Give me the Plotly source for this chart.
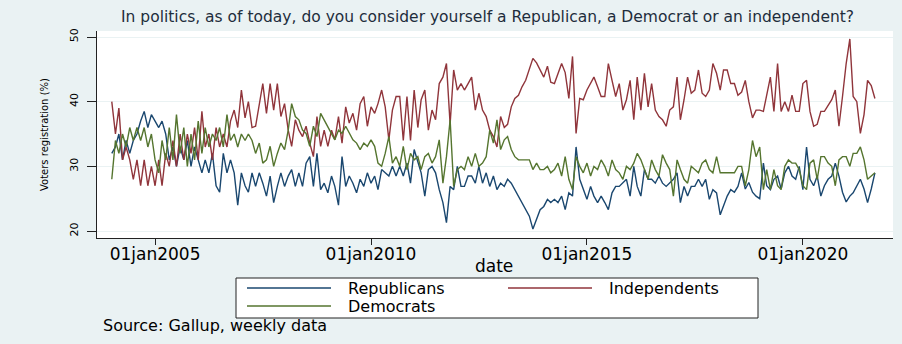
import plotly.graph_objects as go
import pandas as pd

# ---- data (monthly readings, Jan 2004 .. Sep 2021) ----
republicans = [
    32, 33, 35, 31, 34, 32, 34, 35, 37, 38.5,
    36, 38, 37, 36, 37, 35, 31, 33, 30, 33,
    31, 34, 30, 33, 31, 29, 31, 29, 32, 27,
    26, 32, 29, 31, 29, 24, 29, 27, 26, 29,
    26.9, 29, 27.4, 25.4, 28.5, 24.4, 26.9, 29, 26.9, 28.5,
    29.5, 26.9, 29, 26.9, 30.5, 31.5, 26.9, 32, 26.4, 27.4,
    25.9, 28.5, 26.9, 24, 31.5, 26.9, 28.5, 27.4, 25.9, 28,
    26.9, 29, 27.4, 28.5, 26.4, 29.5, 29, 28.5, 30, 28.5,
    30, 28.5, 30.5, 27.4, 32.6, 30.5, 29, 25.4, 29.5, 30,
    29, 26.4, 24.4, 21.3, 26.9, 26.4, 30, 26.9, 26.9, 28.5,
    28.5, 27.4, 30, 27.4, 29, 26.9, 28.5, 26.4, 27.4, 26.9,
    28, 27.4, 26.4, 25.4, 24.4, 23.3, 22.3, 20.3, 21.8, 23.3,
    23.8, 24.9, 24.4, 24.9, 24.4, 25.4, 23.3, 25.9, 25.4, 33,
    28, 26.4, 24.9, 26.9, 25.4, 24.4, 25.4, 24.4, 23.3, 25.9,
    26.9, 26.9, 27.4, 28, 25.4, 30, 26.9, 25.4, 29.5, 28,
    28, 27.4, 28.5, 27.4, 26.9, 27.4, 28, 29, 24.4, 26.9,
    25.4, 26.9, 26.9, 28, 26.9, 28, 24.9, 26.4, 25.9, 22.5,
    24, 25.4, 26.4, 26, 26.9, 29, 26.5, 27.5, 26, 25.4,
    25, 30.5, 27, 26.4, 28, 28.5, 26.5, 29, 30, 28.5,
    28, 30, 26.4, 33, 28, 27, 28.5, 25.4, 27, 28,
    28.5, 30.5, 28.5, 26, 24.5, 25.4, 25.9, 26.9, 28, 26.5,
    24.4, 26.5, 29,
]
independents = [
    40, 35, 39, 31, 33, 31, 28, 31, 27, 31,
    27, 30, 27, 31, 27, 32, 30, 34, 30, 35,
    31, 35, 32, 36, 31, 38.5, 33, 35, 31, 36,
    33, 35, 33, 37, 38.7, 36, 41.8, 37.5, 40, 36,
    36.2, 39.7, 42.8, 38.2, 42.8, 38.7, 42.8, 37.7, 39.7, 35.6,
    33.1, 37.2, 35.6, 34.6, 36.2, 33.6, 31.5, 37.7, 33.1, 35.6,
    33.1, 35.6, 34.1, 37.7, 33.6, 39.2, 36.7, 38.2, 35.6, 39.7,
    40.8, 36.2, 39.2, 38.2, 39.7, 41.8, 39.2, 34.1, 38.7, 40.8,
    40.8, 34, 40.8, 34, 41.8, 36, 40.3, 41.8, 35.6, 38.7,
    37.2, 42.8, 43.8, 45.9, 36.5, 44.9, 41.8, 42.8, 41.8, 42.8,
    43.8, 38.7, 41.3, 38.7, 37.7, 35.6, 34.6, 33, 37.7, 36,
    36.5, 39.2, 40.5, 41, 42.3, 43.3, 44.9, 46.7, 46, 45,
    43.8, 45.5, 43, 42.8, 44.5, 45.9, 44.5, 40.5, 47, 35.1,
    40.5, 40.3, 41.8, 42.8, 43.8, 42.3, 40.8, 40.8, 45.9, 43.3,
    40.8, 42.8, 38.7, 40.3, 43.3, 37.2, 43.8, 38.7, 44.4, 39.2,
    42.8, 38.7, 37.7, 37.2, 36.2, 38.7, 39.2, 43.8, 37.2, 40.3,
    43.8, 41.3, 41.8, 44.9, 41.3, 40.8, 41.8, 45.9, 44.4, 41.8,
    44.9, 44.9, 42.8, 42.8, 41, 41.5, 43.3, 40, 37.5, 38.7,
    38.7, 38.5, 41, 43.8, 38.5, 45.9, 38.5, 40, 38.5, 41,
    38.5, 38.5, 42.8, 43.3, 38.5, 36.2, 36.5, 38.5, 38.5, 39.5,
    40.3, 41.8, 36.2, 40.8, 45.9, 49.7, 40.8, 40, 35.1, 38,
    43.3, 42.5, 40.5,
]
democrats = [
    28, 34, 32, 35, 33, 36, 34, 36, 34, 36,
    33, 35, 31, 29, 34, 31, 36, 31, 38, 32,
    36, 30, 35, 31, 37, 32, 36, 33, 35, 34,
    36, 33, 38, 34, 35, 33, 35, 34, 35, 34,
    32, 33.6, 30.5, 31, 33.1, 30, 32, 33.6, 32.6, 35.6,
    39.7, 37.7, 37.2, 35.6, 35.1, 33.1, 36.2, 34.6, 38.2, 37.2,
    36.2, 35.1, 34.1, 35.6, 35.1, 36.2, 35.1, 34.1, 33.6, 32.6,
    33.6, 33.1, 34.1, 33.1, 30.5, 30, 32, 34.6, 30.5, 31.5,
    30, 33.1, 29.5, 32, 31, 31.5, 29.5, 31.5, 32, 30.5,
    31.5, 34.1, 27.4, 31.5, 37.2, 26.9, 29.5, 30, 29.5, 31.5,
    30, 32, 30, 30.5, 31.5, 35.6, 33.6, 37.2, 32.6, 34.1,
    34.6, 32.6, 31.5, 31, 31, 31, 31, 29.5, 30.5, 29.5,
    29.5, 30, 29, 29.5, 30.5, 28.5, 31.5, 28, 26.4, 31.5,
    30, 29, 30.5, 28.5, 30, 29.5, 31, 30, 28.5, 31,
    29.5, 29, 28, 30, 29.5, 30.5, 32, 31, 29.5, 28,
    31, 29.5, 28.5, 31.8, 30.5, 29.5, 25.4, 31, 29.5, 28,
    27.4, 30, 29.5, 29, 30.5, 31, 29.5, 29, 31.5, 29,
    29, 29, 29, 29, 30, 30, 27, 29.5, 34, 31.5,
    33, 26.4, 29.5, 26.4, 29.5, 27, 26.4, 30, 31, 30.5,
    30.5, 29.5, 27, 26.4, 30.5, 31, 28, 31.5, 31.5, 30.5,
    30, 27, 31, 31.5, 31.5, 30, 32, 32, 33, 31,
    28, 28.5, 29,
]
dates = pd.date_range("2004-01-01", periods=len(republicans), freq="MS")

series_names = ["Republicans", "Independents", "Democrats"]
series_colors = ["#1a476f", "#90353b", "#55752f"]

tick_dates = ["2005-01-01", "2010-01-01", "2015-01-01", "2020-01-01"]
tick_labels = ["01jan2005", "01jan2010", "01jan2015", "01jan2020"]
y_ticks = [20, 30, 40, 50]

title_text = ("In politics, as of today, do you consider yourself a Republican, "
              "a Democrat or an independent?")

# ---- layout geometry (pixels) ----
W, H = 902, 344
L, R, T, B = 97, 9, 31, 106
PW, PH = W - L - R, H - T - B


def fx(x):
    return (x - L) / PW


def fy(y):
    return (H - B - y) / PH


FONT = "DejaVu Sans"
BG = "#eaf2f3"

fig = go.Figure()
for name, vals, color in zip(series_names, [republicans, independents, democrats], series_colors):
    fig.add_trace(go.Scatter(x=dates, y=vals, mode="lines", name=name,
                             line=dict(color=color, width=1.4), showlegend=False))

fig.update_layout(
    width=W, height=H,
    margin=dict(l=L, r=R, t=T, b=B, pad=0),
    paper_bgcolor=BG, plot_bgcolor="white",
    font=dict(family=FONT, color="black"),
    showlegend=False,
    xaxis=dict(type="date", range=["2003-08-29", "2022-02-01"],
               tickmode="array", tickvals=tick_dates, ticktext=tick_labels,
               ticks="outside", ticklen=6, tickcolor="#222", tickwidth=1,
               ticklabelstandoff=-5,
               showline=True, linecolor="#222", linewidth=1,
               showgrid=False, zeroline=False,
               tickfont=dict(family=FONT, size=17, color="black")),
    yaxis=dict(range=[18.92, 50.93], tickmode="array", tickvals=y_ticks,
               ticks="outside", ticklen=9, tickcolor="#222", tickwidth=1,
               tickangle=-90, ticklabelstandoff=5,
               showline=True, linecolor="#222", linewidth=1,
               showgrid=True, gridcolor=BG, gridwidth=1, zeroline=False,
               tickfont=dict(family=FONT, size=11, color="black")),
)


def note(x, y, text, size, xanchor="center", angle=0, color="black"):
    return dict(x=fx(x), y=fy(y), xref="paper", yref="paper", text=text,
                showarrow=False, xanchor=xanchor, yanchor="middle",
                textangle=angle, font=dict(family=FONT, size=size, color=color))


ann = [
    note(487, 17, title_text, 15.5, color="#1e2d3c"),
    note(44, 135, "Voters registration (%)", 10, angle=-90),
    note(494, 266, "date", 17),
    note(101, 325, "Source: Gallup, weekly data", 16, xanchor="left"),
]

# legend (drawn manually: wide line samples, two columns)
legend_items = [
    (series_names[0], series_colors[0], 247, 331, 346, 288),
    (series_names[1], series_colors[1], 508, 592, 607, 288),
    (series_names[2], series_colors[2], 247, 331, 346, 306),
]
shapes = [dict(type="rect", xref="paper", yref="paper",
               x0=fx(236), x1=fx(758), y0=fy(278), y1=fy(318),
               line=dict(color="#222", width=1), fillcolor="white", layer="below")]
for name, color, lx0, lx1, tx, yy in legend_items:
    shapes.append(dict(type="line", xref="paper", yref="paper",
                       x0=fx(lx0), x1=fx(lx1), y0=fy(yy), y1=fy(yy),
                       line=dict(color=color, width=1.4)))
    ann.append(note(tx, yy, name, 16, xanchor="left"))

fig.update_layout(annotations=ann, shapes=shapes)
fig.write_html("out.html")
